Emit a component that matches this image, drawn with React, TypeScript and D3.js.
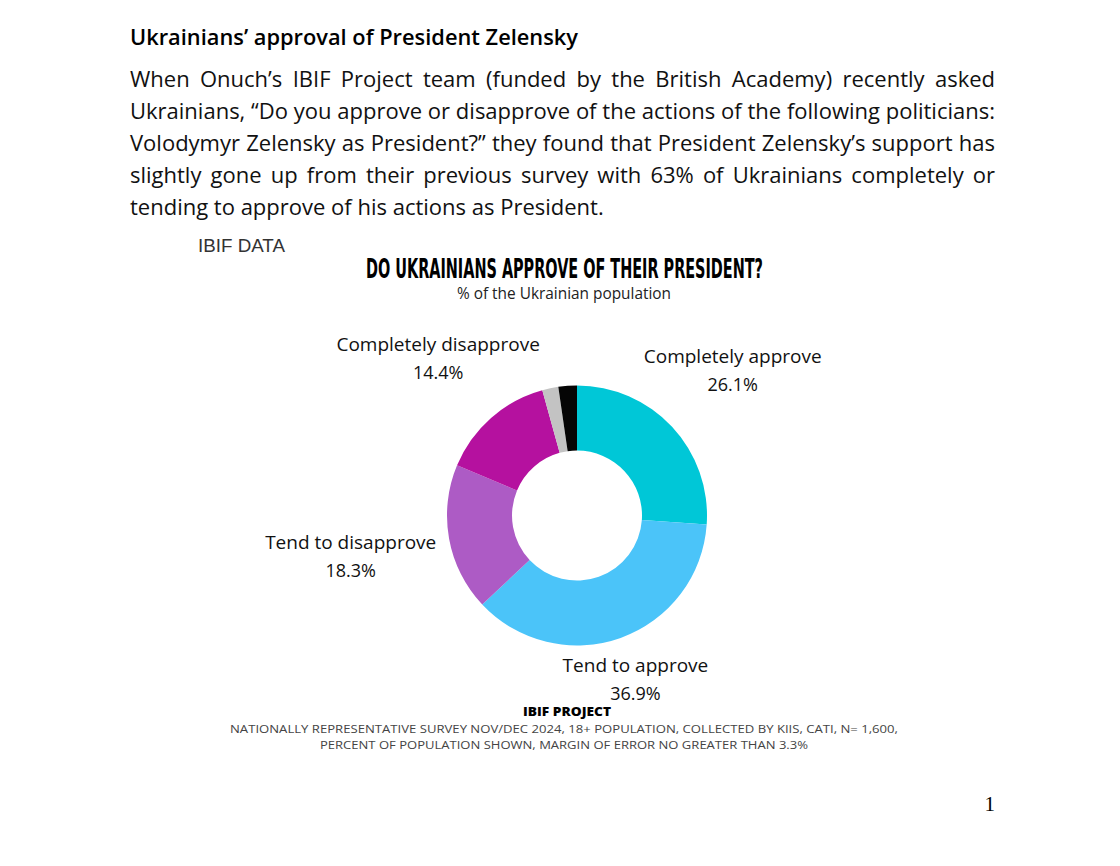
import React, { useEffect, useRef } from "react";
import * as d3 from "d3";

// ---- data ----
const categories = [
  "Completely approve",
  "Tend to approve",
  "Tend to disapprove",
  "Completely disapprove",
  "Don't know",
  "Refused",
];
const values = [26.1, 36.9, 18.3, 14.4, 2.0, 2.3];
const sliceColors = ["#00C7D7", "#4BC4F9", "#AD5BC5", "#B5119F", "#C3C3C3", "#050505"];
const showLabel = [true, true, true, true, false, false];

const heading = "Ukrainians\u2019 approval of President Zelensky";
const paragraphLines = [
  "When Onuch\u2019s IBIF Project team (funded by the British Academy) recently asked",
  "Ukrainians, \u201CDo you approve or disapprove of the actions of the following politicians:",
  "Volodymyr Zelensky as President?\u201D they found that President Zelensky\u2019s support has",
  "slightly gone up from their previous survey with 63% of Ukrainians completely or",
  "tending to approve of his actions as President.",
];
const chartTitle = "DO UKRAINIANS APPROVE OF THEIR PRESIDENT?";
const chartSubtitle = "% of the Ukrainian population";
const sourceTag = "IBIF DATA";
const footerTitle = "IBIF PROJECT";
const footerLines = [
  "NATIONALLY REPRESENTATIVE SURVEY NOV/DEC 2024, 18+ POPULATION, COLLECTED BY KIIS, CATI, N= 1,600,",
  "PERCENT OF POPULATION SHOWN, MARGIN OF ERROR NO GREATER THAN 3.3%",
];

// ---- layout ----
const W = 1120;
const H = 866;
const CX = 577;
const CY = 515.5;
const R_OUT = 130;
const R_IN = 65;
const LABEL_R = [213, 174, 230, 210, 0, 0];
const BODY_FONT = "'Open Sans', Lato, sans-serif";
const LABEL_FONT = "'Open Sans', 'Noto Sans', sans-serif";

export default function App() {
  const ref = useRef<SVGSVGElement | null>(null);

  useEffect(() => {
    const svg = d3.select(ref.current);
    svg.selectAll("*").remove();

    // heading
    svg
      .append("text")
      .attr("x", 130)
      .attr("y", 45)
      .attr("font-family", BODY_FONT)
      .attr("font-size", 22)
      .attr("font-weight", 600)
      .attr("textLength", 448)
      .attr("lengthAdjust", "spacingAndGlyphs")
      .attr("fill", "#000")
      .text(heading);

    // paragraph (justified)
    const left = 130;
    const right = 995;
    paragraphLines.forEach((line, i) => {
      const t = svg
        .append("text")
        .attr("x", left)
        .attr("y", 87 + i * 32)
        .attr("font-family", BODY_FONT)
        .attr("font-size", 22)
        .attr("fill", "#111")
        .text(line);
      if (i < paragraphLines.length - 1) {
        const node = t.node() as SVGTextElement;
        const w = node.getComputedTextLength();
        const spaces = (line.match(/ /g) || []).length;
        if (spaces > 0) {
          t.attr("word-spacing", (right - left - w) / spaces);
        }
      }
    });

    // source tag
    svg
      .append("text")
      .attr("x", 198)
      .attr("y", 252)
      .attr("font-family", "'Liberation Sans', Arial, sans-serif")
      .attr("font-size", 18.8)
      .attr("fill", "#333")
      .text(sourceTag);

    // chart title
    svg
      .append("text")
      .attr("x", 366)
      .attr("y", 278)
      .attr("font-family", "'DejaVu Sans Condensed', 'DejaVu Sans', sans-serif")
      .attr("font-stretch", "condensed")
      .attr("font-size", 26)
      .attr("font-weight", 700)
      .attr("textLength", 397)
      .attr("lengthAdjust", "spacingAndGlyphs")
      .attr("fill", "#000")
      .text(chartTitle);

    svg
      .append("text")
      .attr("x", 564)
      .attr("y", 299)
      .attr("text-anchor", "middle")
      .attr("font-family", LABEL_FONT)
      .attr("font-size", 15.4)
      .attr("fill", "#222")
      .text(chartSubtitle);

    // donut
    const data = values.map((v, i) => ({ v, i }));
    const pie = d3
      .pie<{ v: number; i: number }>()
      .value((d) => d.v)
      .sort(null);
    const arcs = pie(data);
    const arc = d3
      .arc<d3.PieArcDatum<{ v: number; i: number }>>()
      .innerRadius(R_IN)
      .outerRadius(R_OUT);

    const g = svg.append("g").attr("transform", `translate(${CX},${CY})`);
    g.selectAll("path")
      .data(arcs)
      .join("path")
      .attr("d", arc as any)
      .attr("fill", (d) => sliceColors[d.data.i]);

    // labels
    arcs.forEach((a) => {
      const i = a.data.i;
      if (!showLabel[i]) return;
      const mid = (a.startAngle + a.endAngle) / 2;
      const lx = LABEL_R[i] * Math.sin(mid);
      const ly = -LABEL_R[i] * Math.cos(mid);
      const t = g
        .append("text")
        .attr("text-anchor", "middle")
        .attr("font-family", LABEL_FONT)
        .attr("font-size", 19)
        .attr("fill", "#111");
      t.append("tspan").attr("x", lx).attr("y", ly - 7).text(categories[i]);
      t.append("tspan")
        .attr("x", lx)
        .attr("y", ly + 21)
        .attr("font-size", 18)
        .text(`${values[i].toFixed(1)}%`);
    });

    // footer
    svg
      .append("text")
      .attr("x", 567)
      .attr("y", 716)
      .attr("text-anchor", "middle")
      .attr("font-family", LABEL_FONT)
      .attr("font-size", 11.5)
      .attr("font-weight", 800)
      .attr("textLength", 88)
      .attr("lengthAdjust", "spacingAndGlyphs")
      .attr("fill", "#000")
      .text(footerTitle);
    const footWidths = [668, 488];
    footerLines.forEach((l, i) => {
      svg
        .append("text")
        .attr("x", 564)
        .attr("y", 733 + i * 16)
        .attr("text-anchor", "middle")
        .attr("font-family", LABEL_FONT)
        .attr("font-size", 11.5)
        .attr("textLength", footWidths[i])
        .attr("lengthAdjust", "spacingAndGlyphs")
        .attr("fill", "#444")
        .text(l);
    });

    // page number
    svg
      .append("text")
      .attr("x", 995)
      .attr("y", 811)
      .attr("text-anchor", "end")
      .attr("font-family", "'Liberation Serif', 'Times New Roman', serif")
      .attr("font-size", 21)
      .attr("fill", "#000")
      .text("1");
  }, []);

  return (
    <svg
      ref={ref}
      width={W}
      height={H}
      style={{ position: "absolute", left: 0, top: 0, background: "#fff" }}
    />
  );
}
